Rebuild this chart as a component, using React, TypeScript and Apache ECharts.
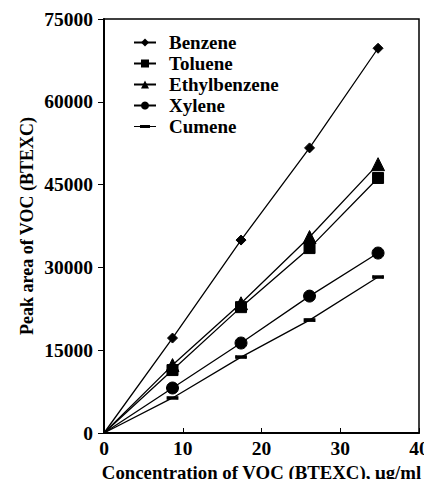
import React, { useEffect, useRef } from "react";
import * as echarts from "echarts";

const concentration = [0, 8.7, 17.4, 26.1, 34.8];
const seriesNames = ["Benzene", "Toluene", "Ethylbenzene", "Xylene", "Cumene"];
const benzene = [0, 17200, 34950, 51650, 69700];
const toluene = [0, 11400, 22800, 33500, 46200];
const ethylbenzene = [0, 12300, 23500, 35500, 48700];
const xylene = [0, 8150, 16300, 24800, 32600];
const cumene = [0, 6350, 13750, 20450, 28250];
const yTicks = [0, 15000, 30000, 45000, 60000, 75000];
const xTicks = [0, 10, 20, 30, 40];

const FONT = "'Liberation Serif', 'Times New Roman', serif";
const CUMENE_ICON = "path://M0,0M22,10M0,4.4H22V5.6H0Z M6,3.5H16V6.5H6Z";

export default function App() {
  const ref = useRef<HTMLDivElement>(null);
  useEffect(() => {
    if (!ref.current) return;
    const chart = echarts.init(ref.current, null, { renderer: "svg" });
    const values = [benzene, toluene, ethylbenzene, xylene, cumene];
    const symbols: any[] = ["diamond", "rect", "triangle", "circle", "rect"];
    const sizes: any[] = [10, 11, 13, 12, [10, 3]];
    const series = seriesNames.map((name, i) => ({
      name,
      type: "line",
      data: concentration.map((c, j) =>
        j === 0 ? { value: [c, values[i][j]], symbol: "none" } : [c, values[i][j]]
      ),
      symbol: symbols[i],
      symbolSize: sizes[i],
      showAllSymbol: true,
      lineStyle: { color: "#000", width: 1.3 },
      itemStyle: { color: "#000", borderColor: "#000" },
      z: 5 - i,
    }));
    chart.setOption({
      animation: false,
      backgroundColor: "#fff",
      grid: {
        left: 104,
        top: 19,
        right: 13,
        bottom: 54,
        show: true,
        borderColor: "#000",
        borderWidth: 1.5,
      },
      legend: {
        orient: "vertical",
        left: 128,
        top: 28,
        itemWidth: 22,
        itemHeight: 10,
        itemGap: 2,
        data: seriesNames.map((n) =>
          n === "Cumene" ? { name: n, icon: CUMENE_ICON } : { name: n }
        ),
        textStyle: {
          fontFamily: FONT,
          fontWeight: "bold",
          fontSize: 19,
          color: "#000",
          padding: [0, 0, 0, 8],
        },
      },
      xAxis: {
        type: "value",
        min: 0,
        max: 40,
        interval: 10,
        name: "Concentration of VOC (BTEXC), μg/ml",
        nameLocation: "middle",
        nameGap: 30,
        nameMoveOverlap: false,
        nameTextStyle: { fontFamily: FONT, fontSize: 18.8, fontWeight: "bold", color: "#000" },
        axisLine: { lineStyle: { color: "#000", width: 2 } },
        axisTick: { inside: true, length: 5, lineStyle: { color: "#000" } },
        axisLabel: {
          fontFamily: FONT,
          fontSize: 19.5,
          fontWeight: "bold",
          color: "#000",
          margin: 5,
          customValues: xTicks,
          formatter: (v: number) => String(v),
        },
        splitLine: { show: false },
      },
      yAxis: {
        type: "value",
        min: 0,
        max: 75000,
        interval: 15000,
        name: "Peak area of VOC (BTEXC)",
        nameLocation: "middle",
        nameRotate: 90,
        nameGap: 68,
        nameMoveOverlap: false,
        nameTextStyle: { fontFamily: FONT, fontSize: 18, fontWeight: "bold", color: "#000" },
        axisLine: { lineStyle: { color: "#000", width: 2 } },
        axisTick: { inside: false, length: 6, lineStyle: { color: "#000" } },
        axisLabel: {
          fontFamily: FONT,
          fontSize: 19.5,
          fontWeight: "bold",
          color: "#000",
          margin: 11,
          customValues: yTicks,
          formatter: (v: number) => String(v),
        },
        splitLine: { show: false },
      },
      series,
    });
    return () => chart.dispose();
  }, []);
  return <div ref={ref} style={{ width: 432, height: 487, margin: -8 }} />;
}
